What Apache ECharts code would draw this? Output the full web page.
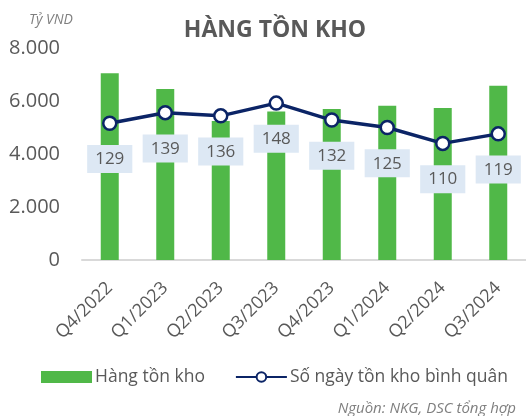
<!DOCTYPE html>
<html lang="vi" style="height: 100%">
<head>
  <meta charset="utf-8">
</head>
<body style="height: 100%; margin: 0; background: #fff">
  <div id="container" style="width: 526px; height: 416px"></div>

  <script type="text/javascript" src="https://cdn.jsdelivr.net/npm/echarts@6.0.0/dist/echarts.min.js"></script>
  <script type="text/javascript">
    // quý
    var quarters = ['Q4/2022', 'Q1/2023', 'Q2/2023', 'Q3/2023', 'Q4/2023', 'Q1/2024', 'Q2/2024', 'Q3/2024'];
    // Hàng tồn kho (tỷ VND)
    var inventory = [7050, 6450, 5250, 5600, 5700, 5820, 5740, 6580];
    // Số ngày tồn kho bình quân
    var inventoryDays = [129, 139, 136, 148, 132, 125, 110, 119];

    var font = '"Open Sans", "Noto Sans", sans-serif';
    var grey = '#595959';

    var dom = document.getElementById('container');
    var myChart = echarts.init(dom, null, { renderer: 'canvas' });

    var option = {
      backgroundColor: '#fff',
      textStyle: { fontFamily: font },
      title: [
        {
          text: 'HÀNG TỒN KHO',
          left: 270, top: 14, textAlign: 'center',
          textStyle: { fontFamily: font, fontSize: 23, fontWeight: 'bold', color: grey }
        },
        {
          text: 'Tỷ VND',
          left: 24, top: 8,
          textStyle: { fontFamily: font, fontSize: 14, fontStyle: 'italic', fontWeight: 'normal', color: '#7f7f7f' }
        },
        {
          text: 'Nguồn: NKG, DSC tổng hợp',
          right: 5, top: 396,
          textStyle: { fontFamily: font, fontSize: 15, fontStyle: 'italic', fontWeight: 'normal', color: '#7f7f7f' }
        }
      ],
      legend: {
        top: 363, left: 36,
        itemWidth: 51, itemHeight: 12, itemGap: 30,
        textStyle: { fontFamily: font, fontSize: 17.5, color: grey, padding: [0, 0, 0, -2] },
        data: [
          { name: 'Hàng tồn kho', icon: 'rect' },
          { name: 'Số ngày tồn kho bình quân' }
        ]
      },
      grid: { left: 82, right: 0, top: 48, bottom: 156, containLabel: false },
      xAxis: {
        type: 'category',
        data: quarters,
        axisTick: { show: false },
        axisLine: { lineStyle: { color: '#d9d9d9', width: 2 } },
        axisLabel: { rotate: 45, margin: 25, fontSize: 18, color: grey, fontFamily: font }
      },
      yAxis: [
        {
          type: 'value', min: 0, max: 8000, interval: 2000,
          splitLine: { show: false },
          axisLine: { show: false },
          axisLabel: {
            fontSize: 20, color: grey, fontFamily: font, margin: 22,
            formatter: function (v) { return v === 0 ? '0' : String(v).replace(/\B(?=(\d{3})+(?!\d))/g, '.'); }
          }
        },
        { type: 'value', min: 0, max: 200, show: false, splitLine: { show: false } }
      ],
      series: [
        {
          name: 'Hàng tồn kho', type: 'bar',
          data: inventory, barWidth: 18,
          itemStyle: { color: '#50b848' }
        },
        {
          name: 'Số ngày tồn kho bình quân', type: 'line', yAxisIndex: 1,
          data: inventoryDays,
          symbol: 'circle', symbolSize: 13,
          lineStyle: { color: '#0b2466', width: 3.5 },
          itemStyle: { color: '#fff', borderColor: '#0b2466', borderWidth: 2.5 },
          label: {
            show: true, position: 'bottom', distance: 14,
            backgroundColor: '#dde8f4', padding: [6, 8, 5, 8],
            fontSize: 17, color: grey, fontFamily: font
          },
          z: 5
        }
      ]
    };

    myChart.setOption(option);
    window.addEventListener('resize', myChart.resize);
  </script>
</body>
</html>
